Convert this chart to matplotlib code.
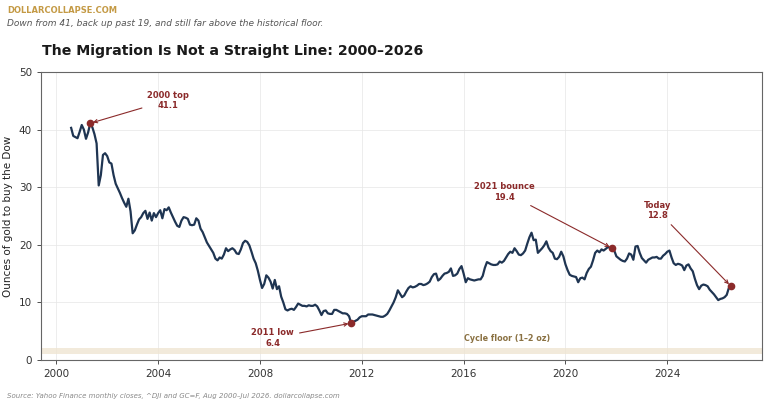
import numpy as np
import matplotlib
matplotlib.use('Agg')
import matplotlib.pyplot as plt

# monthly ratio Dow / gold, Aug 2000 - Jul 2026
y2000 = [40.3, 38.9, 38.7, 38.5, 39.6]
y2001 = [40.8, 40.0, 38.4, 39.5, 41.1, 40.4, 39.2, 37.6, 30.3, 32.1, 35.6, 35.9]
y2002 = [35.4, 34.3, 34.1, 32.1, 30.6, 29.8, 29.0, 28.1, 27.3, 26.6, 28.0, 25.8]
y2003 = [22.0, 22.5, 23.5, 24.4, 24.8, 25.5, 25.9, 24.5, 25.6, 24.2, 25.5, 24.8]
y2004 = [25.5, 26.0, 24.6, 26.2, 26.0, 26.5, 25.6, 24.8, 24.0, 23.3, 23.1, 24.2]
y2005 = [24.8, 24.7, 24.5, 23.5, 23.4, 23.5, 24.6, 24.2, 22.8, 22.2, 21.3, 20.4]
y2006 = [19.8, 19.2, 18.6, 17.6, 17.3, 17.8, 17.6, 18.3, 19.4, 18.9, 19.2, 19.4]
y2007 = [19.1, 18.5, 18.4, 19.2, 20.3, 20.7, 20.5, 19.9, 18.8, 17.6, 16.8, 15.5]
y2008 = [13.9, 12.5, 13.2, 14.7, 14.3, 13.6, 12.4, 13.9, 12.3, 12.8, 11.0, 10.0]
y2009 = [8.8, 8.6, 8.8, 8.9, 8.7, 9.2, 9.8, 9.6, 9.4, 9.4, 9.3, 9.5]
y2010 = [9.4, 9.4, 9.6, 9.3, 8.6, 7.8, 8.5, 8.6, 8.1, 8.0, 8.0, 8.7]
y2011 = [8.7, 8.5, 8.3, 8.1, 8.1, 8.0, 7.6, 6.4, 6.6, 6.8, 7.0, 7.4]
y2012 = [7.6, 7.6, 7.6, 7.9, 7.9, 7.9, 7.8, 7.7, 7.6, 7.5, 7.5, 7.7]
y2013 = [8.0, 8.6, 9.3, 10.0, 10.9, 12.1, 11.5, 10.9, 11.2, 11.9, 12.5, 12.8]
y2014 = [12.6, 12.7, 12.9, 13.2, 13.2, 13.0, 13.1, 13.3, 13.6, 14.4, 14.9, 15.0]
y2015 = [13.8, 14.1, 14.6, 15.0, 15.1, 15.3, 15.9, 14.6, 14.7, 15.0, 15.8, 16.3]
y2016 = [15.0, 13.5, 14.2, 14.0, 13.9, 13.8, 13.9, 14.0, 14.0, 14.6, 16.0, 17.0]
y2017 = [16.8, 16.6, 16.5, 16.5, 16.6, 17.1, 16.9, 17.2, 17.8, 18.4, 18.8, 18.6]
y2018 = [19.4, 18.9, 18.3, 18.2, 18.5, 19.0, 20.2, 21.3, 22.1, 20.8, 20.9, 18.6]
y2019 = [19.0, 19.4, 19.9, 20.6, 19.5, 18.9, 18.6, 17.6, 17.5, 17.9, 18.8, 18.0]
y2020 = [16.6, 15.6, 14.8, 14.6, 14.5, 14.4, 13.5, 14.2, 14.3, 14.0, 15.1, 15.8]
y2021 = [16.2, 17.3, 18.6, 19.0, 18.7, 19.2, 19.0, 19.3, 19.6, 19.5, 19.4, 19.0]
y2022 = [18.0, 17.7, 17.4, 17.2, 17.1, 17.6, 18.5, 18.3, 17.4, 19.7, 19.8, 18.6]
y2023 = [17.7, 17.3, 16.9, 17.4, 17.6, 17.8, 17.8, 17.9, 17.6, 17.6, 18.1, 18.4]
y2024 = [18.8, 19.0, 17.8, 16.8, 16.5, 16.7, 16.6, 16.4, 15.6, 16.4, 16.6, 15.9]
y2025 = [15.4, 14.1, 13.0, 12.3, 12.9, 13.1, 13.0, 12.8, 12.2, 11.8, 11.4, 10.9]
y2026 = [10.4, 10.6, 10.7, 10.9, 11.3, 12.5, 12.8]

ratio = (y2000 + y2001 + y2002 + y2003 + y2004 + y2005 + y2006 + y2007 + y2008
         + y2009 + y2010 + y2011 + y2012 + y2013 + y2014 + y2015 + y2016 + y2017
         + y2018 + y2019 + y2020 + y2021 + y2022 + y2023 + y2024 + y2025 + y2026)
years = 2000 + 7 / 12 + np.arange(len(ratio)) / 12

# (label, year, month) of the marked points
callouts = [('2000 top', 2001, 5), ('2011 low', 2011, 8),
            ('2021 bounce', 2021, 11), ('Today', 2026, 7)]
callout_text_pos = [(2004.4, 45.1), (2008.5, 3.8), (2017.6, 29.2), (2023.6, 26.0)]

floor_lo, floor_hi = 1, 2
xticks = [2000, 2004, 2008, 2012, 2016, 2020, 2024]

navy = '#1f3552'
red = '#8b2a2a'

fig = plt.figure(figsize=(7.68, 4.07), dpi=100)
ax = fig.add_axes([0.0534, 0.1155, 0.9388, 0.7076])

ax.axhspan(floor_lo, floor_hi, color='#efe5d2', alpha=0.8, lw=0, zorder=1)
ax.text(2016, floor_hi + 1.0, 'Cycle floor (1\u20132 oz)', fontsize=5.8, fontweight='bold',
        color='#8a7142', ha='left', va='bottom')

ax.plot(years, ratio, color=navy, lw=1.6, zorder=3)

for (label, yr, mo), (tx, ty) in zip(callouts, callout_text_pos):
    i = (yr - 2000) * 12 + mo - 8
    ax.plot(years[i], ratio[i], 'o', color=red, ms=4.5, zorder=4)
    ax.annotate('%s\n%.1f' % (label, ratio[i]), xy=(years[i], ratio[i]), xytext=(tx, ty),
                fontsize=6, fontweight='bold', color=red, ha='center', va='center',
                arrowprops=dict(arrowstyle='->', color=red, lw=0.8), zorder=5)

ax.set_xlim(1999.4, 2027.72)
ax.set_ylim(0, 50)
ax.set_xticks(xticks)
ax.set_xticklabels([str(t) for t in xticks])
ax.set_yticks([0, 10, 20, 30, 40, 50])
ax.tick_params(labelsize=7.5, colors='#333333', length=3, width=0.6)
ax.grid(True, color='#e6e6e6', lw=0.5)
ax.set_axisbelow(True)
for s in ax.spines.values():
    s.set_color('#666666')
    s.set_linewidth(0.8)
ax.set_ylabel('Ounces of gold to buy the Dow', fontsize=7.5, color='#222222')

fig.text(0.009, 0.975, 'DOLLARCOLLAPSE.COM', fontsize=6, fontweight='bold',
         color='#c49a45', va='center')
fig.text(0.009, 0.943, 'Down from 41, back up past 19, and still far above the historical floor.',
         fontsize=6.5, style='italic', color='#555555', va='center')
fig.text(0.0547, 0.874, 'The Migration Is Not a Straight Line: 2000\u20132026',
         fontsize=10.2, fontweight='bold', color='#1a1a1a', va='center')
fig.text(0.009, 0.027, 'Source: Yahoo Finance monthly closes, ^DJI and GC=F, Aug 2000\u2013Jul 2026. dollarcollapse.com',
         fontsize=5, style='italic', color='#888888', va='center')

plt.savefig('out.png', dpi=100)
